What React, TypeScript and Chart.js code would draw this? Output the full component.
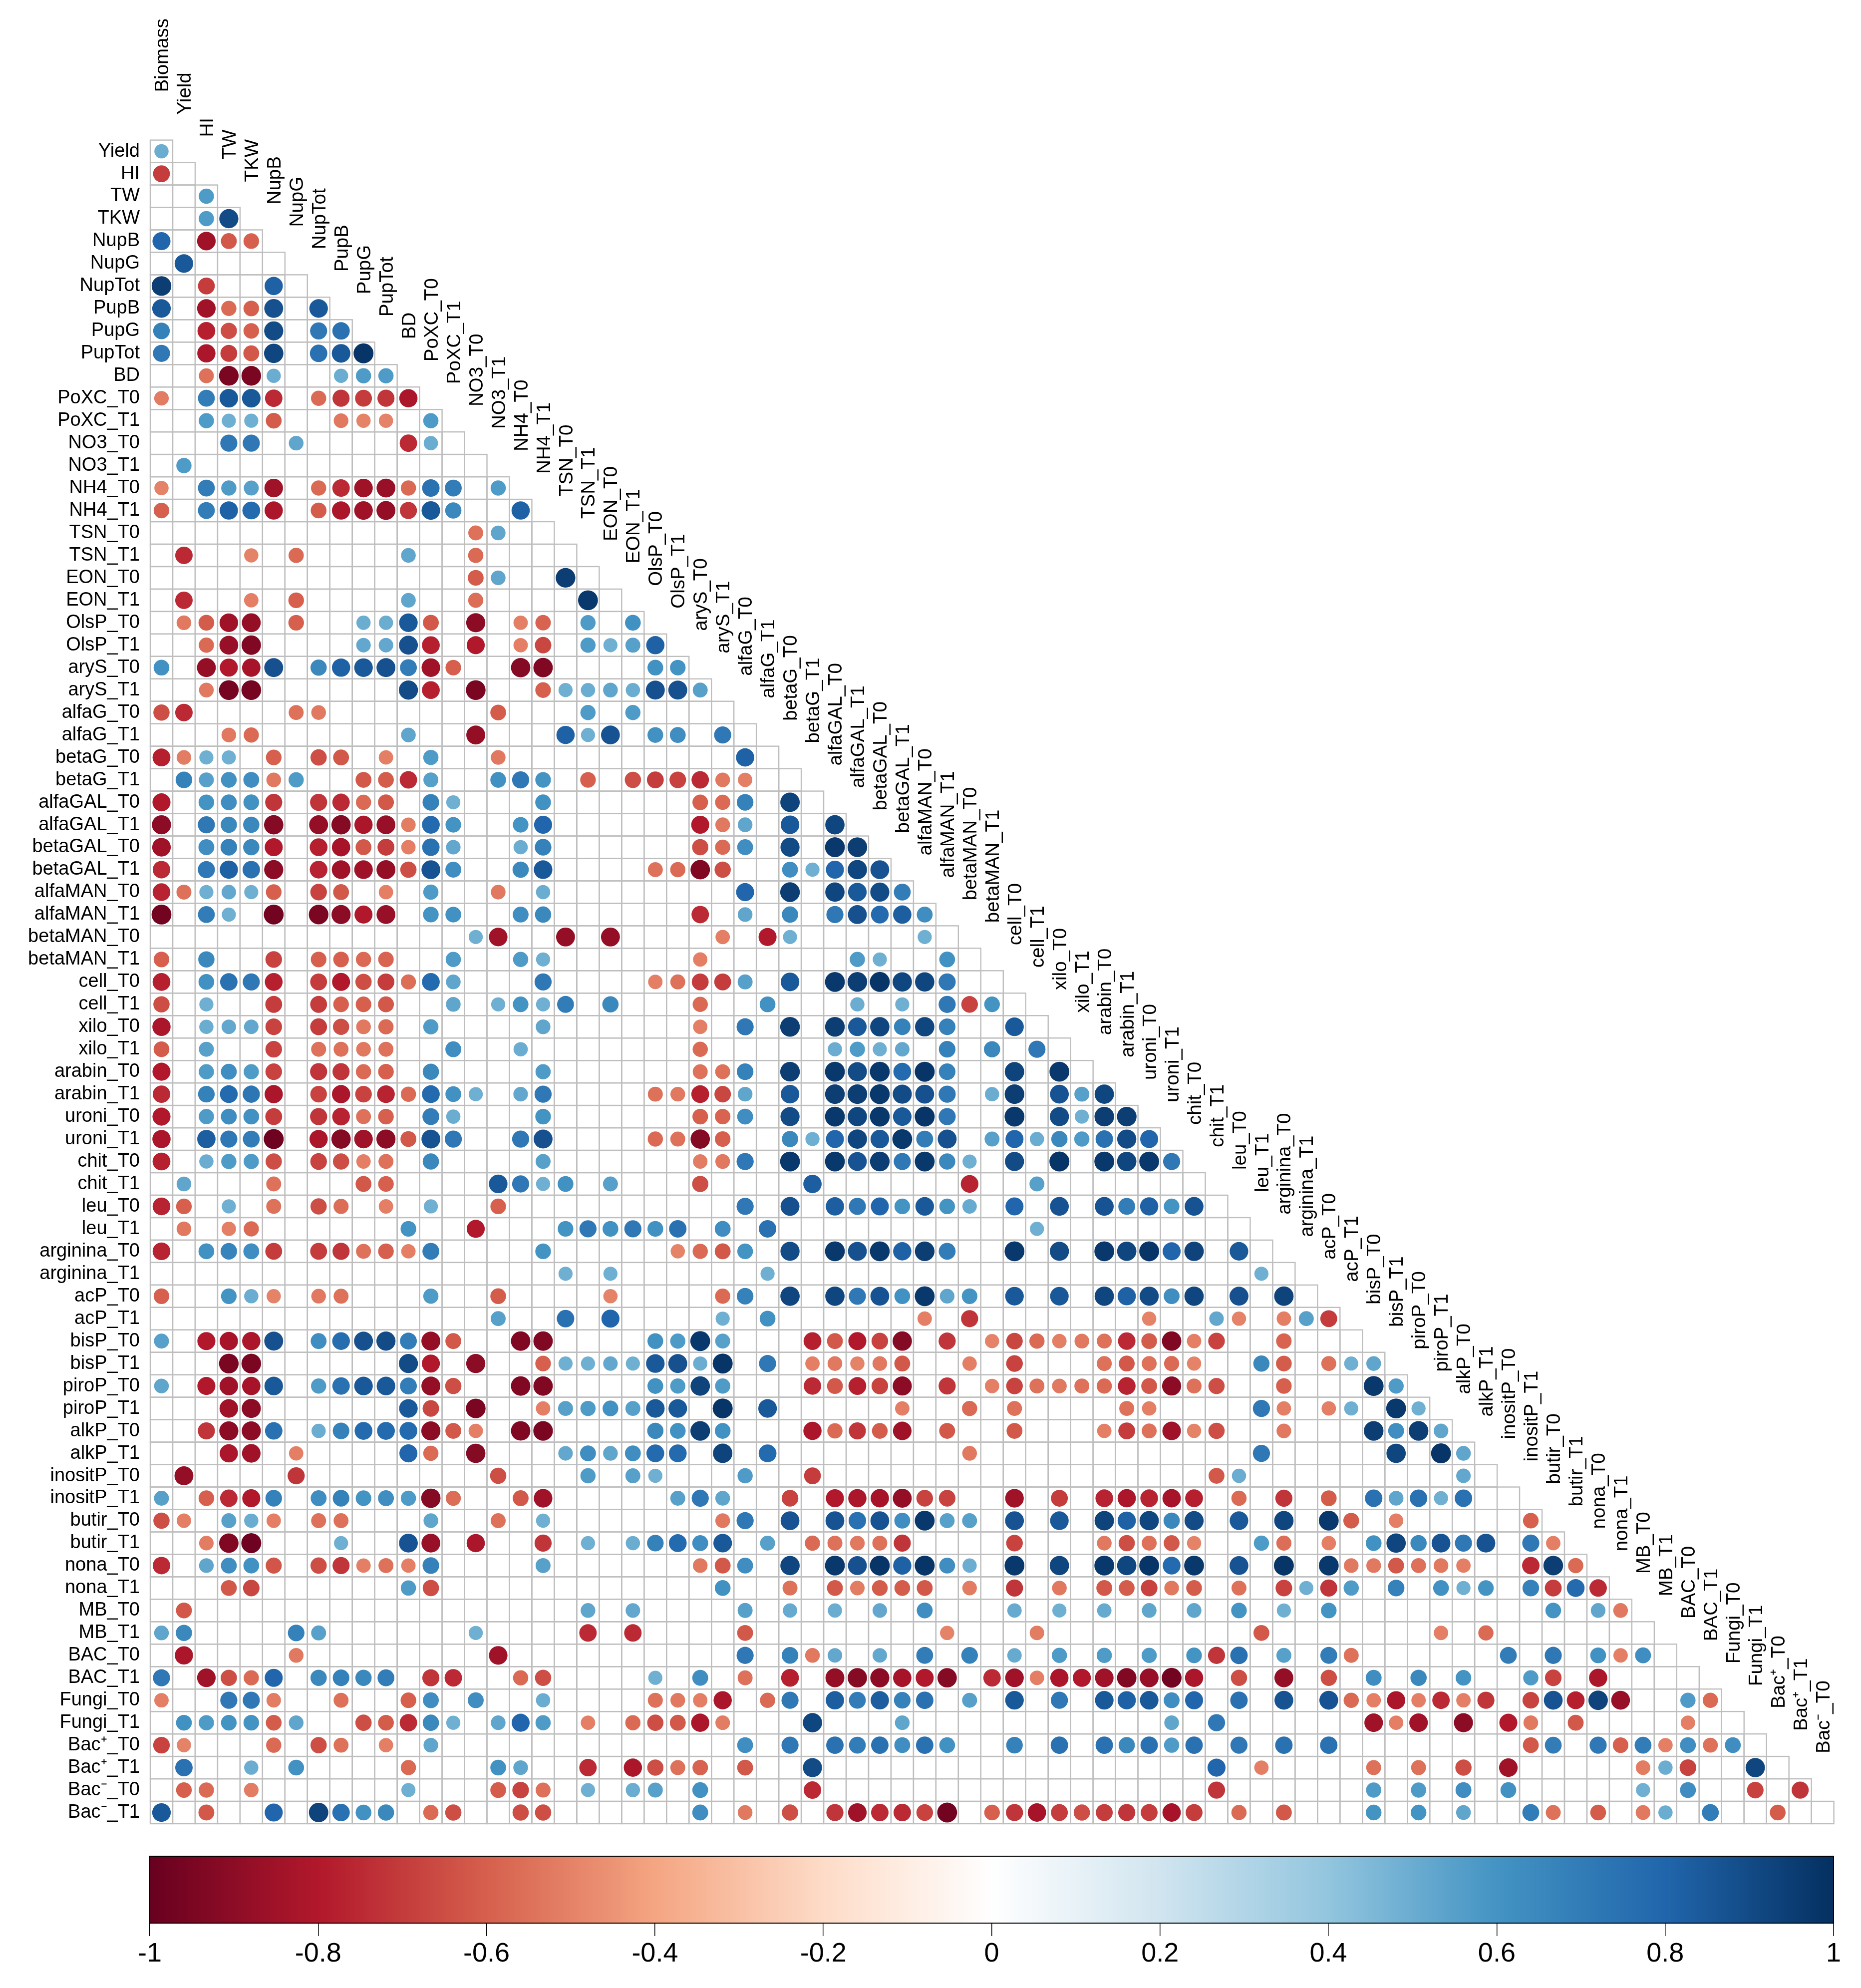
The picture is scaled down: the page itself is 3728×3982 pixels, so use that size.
import React, { useEffect, useRef } from "react";
import { Chart, registerables } from "chart.js";

Chart.register(...registerables);

const variables = ["Biomass","Yield","HI","TW","TKW","NupB","NupG","NupTot","PupB","PupG","PupTot","BD","PoXC_T0","PoXC_T1","NO3_T0","NO3_T1","NH4_T0","NH4_T1","TSN_T0","TSN_T1","EON_T0","EON_T1","OlsP_T0","OlsP_T1","aryS_T0","aryS_T1","alfaG_T0","alfaG_T1","betaG_T0","betaG_T1","alfaGAL_T0","alfaGAL_T1","betaGAL_T0","betaGAL_T1","alfaMAN_T0","alfaMAN_T1","betaMAN_T0","betaMAN_T1","cell_T0","cell_T1","xilo_T0","xilo_T1","arabin_T0","arabin_T1","uroni_T0","uroni_T1","chit_T0","chit_T1","leu_T0","leu_T1","arginina_T0","arginina_T1","acP_T0","acP_T1","bisP_T0","bisP_T1","piroP_T0","piroP_T1","alkP_T0","alkP_T1","inositP_T0","inositP_T1","butir_T0","butir_T1","nona_T0","nona_T1","MB_T0","MB_T1","BAC_T0","BAC_T1","Fungi_T0","Fungi_T1","Bac⁺_T0","Bac⁺_T1","Bac⁻_T0","Bac⁻_T1"];

// Each row: [column index, correlation] for the significant cells only.
const row00 = [[0,.5]];
const row01 = [[0,-.7]];
const row02 = [[2,.57]];
const row03 = [[2,.57],[3,.9]];
const row04 = [[0,.8],[2,-.85],[3,-.62],[4,-.6]];
const row05 = [[1,.85]];
const row06 = [[0,.95],[2,-.7],[5,.82]];
const row07 = [[0,.85],[2,-.85],[3,-.57],[4,-.6],[5,.88],[7,.85]];
const row08 = [[0,.68],[2,-.78],[3,-.65],[4,-.6],[5,.9],[7,.72],[8,.75]];
const row09 = [[0,.72],[2,-.82],[3,-.7],[4,-.62],[5,.92],[7,.75],[8,.85],[9,.98]];
const row10 = [[2,-.55],[3,-.95],[4,-.95],[5,.5],[8,.5],[9,.57],[10,.57]];
const row11 = [[0,-.52],[2,.7],[3,.85],[4,.85],[5,-.75],[7,-.57],[8,-.72],[9,-.7],[10,-.72],[11,-.82]];
const row12 = [[2,.57],[3,.49],[4,.49],[5,-.61],[8,-.53],[9,-.5],[10,-.5],[12,.57]];
const row13 = [[3,.72],[4,.72],[6,.53],[11,-.75],[12,.5]];
const row14 = [[1,.57]];
const row15 = [[0,-.5],[2,.7],[3,.57],[4,.55],[5,-.85],[7,-.57],[8,-.75],[9,-.85],[10,-.87],[11,-.57],[12,.75],[13,.7],[15,.57]];
const row16 = [[0,-.6],[2,.7],[3,.82],[4,.78],[5,-.82],[7,-.61],[8,-.82],[9,-.85],[10,-.88],[11,-.72],[12,.85],[13,.65],[16,.82]];
const row17 = [[14,-.55],[15,.53]];
const row18 = [[1,-.75],[4,-.5],[6,-.57],[11,.53],[14,-.57]];
const row19 = [[14,-.61],[15,.53],[18,.95]];
const row20 = [[1,-.75],[4,-.51],[6,-.6],[11,.53],[14,-.56],[19,.97]];
const row21 = [[1,-.53],[2,-.61],[3,-.85],[4,-.88],[6,-.6],[9,.5],[10,.5],[11,.85],[12,-.62],[14,-.9],[16,-.51],[17,-.59],[19,.57],[21,.61]];
const row22 = [[2,-.57],[3,-.87],[4,-.93],[9,.52],[10,.52],[11,.88],[12,-.78],[14,-.8],[16,-.51],[17,-.67],[19,.57],[20,.49],[21,.55],[22,.82]];
const row23 = [[0,.61],[2,-.88],[3,-.8],[4,-.83],[5,.88],[7,.65],[8,.82],[9,.85],[10,.88],[11,.7],[12,-.85],[13,-.6],[16,-.92],[17,-.93],[22,.61],[23,.6]];
const row24 = [[2,-.53],[3,-.96],[4,-.96],[11,.9],[12,-.78],[14,-.95],[17,-.6],[18,.49],[19,.5],[20,.53],[21,.5],[22,.88],[23,.88],[24,.55]];
const row25 = [[0,-.65],[1,-.75],[6,-.55],[7,-.53],[15,-.61],[19,.57],[21,.57]];
const row26 = [[3,-.53],[4,-.57],[11,.53],[14,-.88],[18,.82],[19,.49],[20,.87],[22,.61],[23,.62],[25,.72]];
const row27 = [[0,-.78],[1,-.52],[2,.49],[3,.49],[5,-.6],[7,-.65],[8,-.62],[10,-.51],[12,.57],[15,-.53],[26,.82]];
const row28 = [[1,.68],[2,.55],[3,.61],[4,.62],[5,-.53],[6,.57],[9,-.62],[10,-.61],[11,-.75],[12,.55],[15,.61],[16,.72],[17,.6],[19,-.6],[21,-.65],[22,-.7],[23,-.68],[24,-.75],[25,-.53],[26,-.51]];
const row29 = [[0,-.8],[2,.6],[3,.62],[4,.61],[5,-.72],[7,-.72],[8,-.75],[9,-.57],[10,-.62],[12,.68],[13,.49],[17,.61],[24,-.6],[25,-.57],[26,.68],[28,.93]];
const row30 = [[0,-.9],[2,.72],[3,.65],[4,.65],[5,-.92],[7,-.88],[8,-.92],[9,-.82],[10,-.87],[11,-.52],[12,.78],[13,.6],[16,.6],[17,.8],[24,-.8],[25,-.53],[26,.53],[28,.85],[30,.92]];
const row31 = [[0,-.85],[2,.62],[3,.68],[4,.65],[5,-.8],[7,-.78],[8,-.83],[9,-.62],[10,-.7],[11,-.51],[12,.75],[13,.52],[16,.5],[17,.68],[24,-.65],[25,-.57],[26,.62],[28,.9],[30,.97],[31,.95]];
const row32 = [[0,-.75],[2,.72],[3,.82],[4,.75],[5,-.9],[7,-.77],[8,-.85],[9,-.85],[10,-.88],[11,-.65],[12,.87],[13,.62],[16,.65],[17,.85],[22,-.55],[23,-.57],[24,-.93],[25,-.65],[28,.62],[29,.49],[30,.8],[31,.92],[32,.87]];
const row33 = [[0,-.77],[1,-.55],[2,.49],[3,.52],[4,.49],[5,-.6],[7,-.68],[8,-.62],[10,-.51],[12,.57],[15,-.53],[17,.5],[26,.8],[28,.95],[30,.92],[31,.85],[32,.9],[33,.7]];
const row34 = [[0,-.97],[2,.7],[3,.49],[5,-.97],[7,-.95],[8,-.9],[9,-.8],[10,-.87],[12,.6],[13,.61],[16,.62],[17,.65],[24,-.75],[26,.53],[28,.65],[30,.72],[31,.88],[32,.78],[33,.83],[34,.62]];
const row35 = [[14,.49],[15,-.85],[18,-.88],[20,-.88],[25,-.51],[27,-.8],[28,.49],[34,.49]];
const row36 = [[0,-.6],[2,.65],[5,-.68],[7,-.6],[8,-.6],[9,-.57],[10,-.59],[13,.57],[16,.57],[17,.49],[24,-.51],[31,.57],[32,.49],[35,.61]];
const row37 = [[0,-.78],[2,.61],[3,.75],[4,.72],[5,-.78],[7,-.7],[8,-.8],[9,-.65],[10,-.7],[11,-.56],[12,.78],[13,.53],[17,.72],[22,-.51],[23,-.55],[24,-.7],[25,-.7],[26,.55],[28,.85],[30,.97],[31,.95],[32,.98],[33,.92],[34,.92],[35,.72]];
const row38 = [[0,-.65],[2,.49],[5,-.7],[7,-.7],[8,-.6],[9,-.6],[10,-.62],[13,.53],[15,.49],[16,.6],[17,.49],[18,.7],[20,.65],[24,-.57],[27,.61],[31,.5],[33,.49],[35,.72],[36,-.68],[37,.6]];
const row39 = [[0,-.82],[2,.5],[3,.52],[4,.52],[5,-.68],[7,-.7],[8,-.65],[9,-.53],[10,-.57],[12,.57],[17,.53],[24,-.51],[26,.72],[28,.95],[30,.95],[31,.85],[32,.92],[33,.68],[34,.92],[35,.68],[38,.85]];
const row40 = [[0,-.61],[2,.55],[5,-.68],[7,-.55],[8,-.55],[9,-.53],[10,-.55],[13,.62],[16,.5],[24,-.57],[30,.5],[31,.57],[32,.49],[33,.52],[35,.68],[37,.65],[39,.72]];
const row41 = [[0,-.8],[2,.57],[3,.62],[4,.57],[5,-.68],[7,-.72],[8,-.72],[9,-.57],[10,-.6],[12,.65],[17,.57],[24,-.55],[25,-.55],[26,.68],[28,.95],[30,.97],[31,.9],[32,.97],[33,.78],[34,.98],[35,.68],[38,.93],[40,.97]];
const row42 = [[0,-.75],[2,.68],[3,.78],[4,.73],[5,-.82],[7,-.68],[8,-.82],[9,-.68],[10,-.77],[11,-.57],[12,.78],[13,.61],[14,.49],[16,.52],[17,.72],[22,-.55],[23,-.53],[24,-.78],[25,-.67],[26,.53],[28,.85],[30,.95],[31,.95],[32,.97],[33,.9],[34,.88],[35,.72],[37,.5],[38,.95],[40,.87],[41,.55],[42,.92]];
const row43 = [[0,-.8],[2,.57],[3,.62],[4,.61],[5,-.7],[7,-.72],[8,-.77],[9,-.55],[10,-.6],[12,.7],[13,.5],[17,.6],[24,-.6],[25,-.59],[26,.62],[28,.9],[30,.97],[31,.92],[32,.97],[33,.85],[34,.98],[35,.72],[38,.97],[40,.9],[41,.49],[42,.95],[43,.95]];
const row44 = [[0,-.82],[2,.83],[3,.72],[4,.7],[5,-.98],[7,-.82],[8,-.92],[9,-.85],[10,-.9],[11,-.62],[12,.87],[13,.72],[16,.72],[17,.88],[22,-.57],[23,-.55],[24,-.92],[25,-.6],[28,.65],[29,.49],[30,.8],[31,.92],[32,.85],[33,.97],[34,.7],[35,.88],[37,.55],[38,.8],[39,.5],[40,.65],[41,.57],[42,.75],[43,.9],[44,.8]];
const row45 = [[0,-.78],[2,.5],[3,.57],[4,.57],[5,-.65],[7,-.68],[8,-.65],[9,-.51],[10,-.55],[12,.65],[17,.55],[24,-.52],[25,-.53],[26,.72],[28,.97],[30,.97],[31,.87],[32,.95],[33,.72],[34,.97],[35,.65],[36,.49],[38,.9],[40,.98],[42,.97],[43,.92],[44,.97],[45,.72]];
const row46 = [[1,.53],[5,-.55],[9,-.62],[10,-.6],[15,.85],[16,.72],[17,.49],[18,.61],[20,.55],[24,-.65],[29,.83],[36,-.77],[39,.55]];
const row47 = [[0,-.77],[1,-.6],[3,.49],[5,-.55],[7,-.65],[8,-.56],[10,-.51],[12,.49],[15,-.6],[26,.72],[28,.88],[30,.83],[31,.72],[32,.8],[33,.6],[34,.85],[35,.6],[36,.51],[38,.8],[40,.87],[42,.87],[43,.7],[44,.82],[45,.6],[46,.87]];
const row48 = [[1,-.53],[3,-.51],[4,-.57],[11,.6],[14,-.8],[18,.6],[19,.72],[20,.61],[21,.72],[22,.61],[23,.75],[25,.62],[27,.75],[39,.49]];
const row49 = [[0,-.77],[2,.61],[3,.67],[4,.62],[5,-.7],[7,-.7],[8,-.72],[9,-.55],[10,-.6],[11,-.51],[12,.7],[17,.6],[23,-.5],[24,-.57],[25,-.62],[26,.6],[28,.9],[30,.97],[31,.88],[32,.97],[33,.82],[34,.95],[35,.7],[38,.97],[40,.9],[42,.97],[43,.92],[44,.98],[45,.8],[46,.93],[48,.85]];
const row50 = [[18,.49],[20,.49],[27,.49],[49,.49]];
const row51 = [[0,-.6],[3,.6],[4,.5],[5,-.5],[7,-.53],[8,-.55],[12,.57],[15,-.61],[20,-.5],[25,-.57],[26,.68],[28,.92],[30,.92],[31,.72],[32,.87],[33,.61],[34,.97],[35,.53],[36,.6],[38,.85],[40,.85],[42,.92],[43,.82],[44,.9],[45,.62],[46,.92],[48,.88],[50,.93]];
const row52 = [[15,.55],[18,.75],[20,.8],[25,.49],[27,.61],[34,-.51],[36,-.72],[44,-.5],[47,.52],[48,-.5],[50,-.51],[51,.55],[52,-.7]];
const row53 = [[0,.55],[2,-.8],[3,-.83],[4,-.82],[5,.88],[7,.62],[8,.77],[9,.88],[10,.9],[11,.7],[12,-.88],[13,-.62],[16,-.93],[17,-.93],[22,.61],[23,.57],[24,.97],[25,.55],[29,-.78],[30,-.62],[31,-.8],[32,-.68],[33,-.92],[35,-.72],[37,-.5],[38,-.67],[39,-.57],[40,-.51],[41,-.53],[42,-.55],[43,-.75],[44,-.61],[45,-.93],[46,-.51],[47,-.68],[50,-.59]];
const row54 = [[3,-.95],[4,-.95],[11,.9],[12,-.8],[14,-.9],[17,-.6],[18,.49],[19,.49],[20,.52],[21,.49],[22,.85],[23,.88],[24,.5],[25,.98],[27,.72],[29,-.51],[30,-.53],[31,-.5],[32,-.53],[33,-.62],[36,-.51],[38,-.68],[42,-.55],[43,-.62],[44,-.55],[45,-.57],[46,-.5],[49,.65],[50,-.61],[52,-.55],[53,.49],[54,.53]];
const row55 = [[0,.53],[2,-.8],[3,-.85],[4,-.83],[5,.85],[7,.57],[8,.75],[9,.85],[10,.85],[11,.7],[12,-.88],[13,-.65],[16,-.93],[17,-.93],[22,.61],[23,.57],[24,.93],[25,.57],[29,-.75],[30,-.62],[31,-.78],[32,-.68],[33,-.9],[35,-.72],[37,-.51],[38,-.68],[39,-.55],[40,-.53],[41,-.55],[42,-.57],[43,-.77],[44,-.62],[45,-.9],[46,-.55],[47,-.65],[50,-.6],[54,.97],[55,.57]];
const row56 = [[3,-.85],[4,-.9],[11,.85],[12,-.67],[14,-.95],[17,-.51],[18,.55],[19,.57],[20,.61],[21,.55],[22,.85],[23,.85],[25,.98],[27,.85],[33,-.51],[36,-.57],[38,-.55],[43,-.55],[44,-.51],[49,.72],[50,-.51],[52,-.51],[53,.49],[55,.97],[56,.49]];
const row57 = [[2,-.72],[3,-.9],[4,-.9],[5,.75],[7,.5],[8,.68],[9,.78],[10,.78],[11,.78],[12,-.9],[13,-.62],[14,-.51],[16,-.93],[17,-.95],[22,.65],[23,.61],[24,.95],[25,.61],[29,-.82],[30,-.57],[31,-.72],[32,-.61],[33,-.85],[35,-.62],[38,-.62],[42,-.51],[43,-.7],[44,-.55],[45,-.85],[46,-.5],[47,-.65],[50,-.53],[54,.95],[55,.62],[56,.95],[57,.53]];
const row58 = [[3,-.82],[4,-.85],[6,-.51],[11,.8],[12,-.57],[14,-.92],[18,.52],[19,.62],[20,.53],[21,.62],[22,.78],[23,.78],[25,.93],[27,.78],[36,-.53],[49,.72],[55,.92],[57,.98],[58,.53]];
const row59 = [[1,-.88],[6,-.72],[15,-.65],[19,.57],[21,.55],[22,.49],[26,.57],[29,-.7],[47,-.62],[48,.5],[58,.52]];
const row60 = [[0,.55],[2,-.6],[3,-.75],[4,-.8],[5,.68],[7,.62],[8,.68],[9,.6],[10,.62],[11,.57],[12,-.92],[13,-.56],[16,-.62],[17,-.85],[23,.55],[24,.72],[25,.53],[28,-.68],[30,-.8],[31,-.82],[32,-.83],[33,-.88],[34,-.68],[35,-.68],[38,-.85],[40,-.7],[42,-.77],[43,-.82],[44,-.77],[45,-.83],[46,-.78],[48,-.57],[50,-.72],[52,-.61],[54,.75],[55,.53],[56,.75],[57,.49],[58,.75]];
const row61 = [[0,-.65],[1,-.51],[3,.55],[4,.5],[5,-.51],[7,-.55],[8,-.55],[12,.53],[15,-.55],[17,.49],[25,-.53],[26,.72],[28,.87],[30,.87],[31,.75],[32,.87],[33,.62],[34,.97],[35,.55],[36,.55],[38,.87],[40,.85],[42,.93],[43,.82],[44,.92],[45,.65],[46,.9],[48,.85],[50,.92],[52,.97],[53,-.61],[55,-.51],[61,-.6]];
const row62 = [[2,-.52],[3,-.93],[4,-.98],[8,.49],[11,.87],[12,-.87],[14,-.82],[17,-.72],[19,.49],[21,.5],[22,.68],[23,.78],[24,.62],[25,.85],[27,.55],[29,-.57],[30,-.55],[31,-.53],[32,-.55],[33,-.72],[38,-.68],[42,-.53],[43,-.65],[44,-.55],[45,-.62],[46,-.5],[49,.57],[50,-.56],[52,-.51],[54,.61],[55,.92],[56,.65],[57,.87],[58,.72],[59,.87],[61,.72],[62,-.51]];
const row63 = [[0,-.75],[2,.53],[3,.62],[4,.61],[5,-.63],[7,-.65],[8,-.72],[9,-.51],[10,-.55],[11,-.51],[12,.68],[17,.55],[24,-.53],[25,-.62],[26,.62],[28,.92],[30,.97],[31,.88],[32,.98],[33,.82],[34,.98],[35,.62],[36,.5],[38,.97],[40,.92],[42,.97],[43,.92],[44,.98],[45,.78],[46,.97],[48,.87],[50,.98],[52,.97],[53,-.53],[54,-.53],[55,-.62],[56,-.55],[57,-.53],[58,-.51],[61,-.75],[62,.95],[63,-.57]];
const row64 = [[3,-.62],[4,-.67],[11,.57],[12,-.65],[25,.61],[28,-.55],[30,-.62],[31,-.52],[32,-.61],[33,-.61],[34,-.62],[36,-.52],[38,-.72],[40,-.53],[42,-.62],[43,-.61],[44,-.68],[45,-.53],[46,-.61],[48,-.55],[50,-.68],[51,.49],[52,-.72],[53,.57],[55,.68],[57,.61],[58,.49],[59,.6],[61,.68],[62,-.7],[63,.78],[64,-.75]];
const row65 = [[1,-.62],[19,.53],[21,.52],[26,.55],[28,.51],[30,.5],[32,.52],[34,.62],[38,.51],[40,.49],[42,.51],[44,.53],[46,.53],[48,.6],[50,.49],[52,.6],[62,.6],[64,.53],[65,-.53]];
const row66 = [[0,.53],[1,.65],[6,.68],[7,.55],[14,.49],[19,-.75],[21,-.75],[26,-.62],[35,-.5],[39,-.52],[49,-.62],[57,-.51],[59,-.57]];
const row67 = [[1,-.82],[6,-.53],[15,-.85],[26,.72],[28,.68],[29,-.53],[30,.52],[32,.52],[34,.7],[36,.68],[38,.51],[40,.57],[42,.57],[44,.57],[46,.6],[47,-.72],[48,.75],[50,.55],[52,.7],[53,-.55],[60,.7],[62,.72],[64,.61],[65,-.51],[66,.62]];
const row68 = [[0,.72],[2,-.85],[3,-.65],[4,-.57],[5,.8],[7,.65],[8,.68],[9,.65],[10,.7],[12,-.72],[13,-.75],[16,-.57],[17,-.65],[22,.49],[24,.62],[26,-.55],[28,-.78],[30,-.88],[31,-.92],[32,-.9],[33,-.83],[34,-.8],[35,-.92],[37,-.75],[38,-.85],[39,-.51],[40,-.82],[41,-.8],[42,-.85],[43,-.93],[44,-.87],[45,-.97],[46,-.82],[48,-.65],[50,-.88],[52,-.65],[54,.62],[56,.65],[58,.6],[61,.57],[62,-.68],[64,-.82]];
const row69 = [[0,-.51],[3,.72],[4,.72],[5,-.52],[8,-.55],[11,-.6],[12,.62],[14,.62],[17,.5],[22,-.55],[23,-.53],[24,-.51],[25,-.82],[27,-.57],[28,.72],[30,.83],[31,.7],[32,.83],[33,.68],[34,.75],[36,.55],[38,.85],[40,.72],[42,.85],[43,.82],[44,.85],[45,.62],[46,.8],[48,.75],[50,.87],[52,.87],[53,-.57],[54,-.51],[55,-.82],[56,-.51],[57,-.75],[58,-.51],[59,-.72],[61,-.68],[62,.87],[63,-.78],[64,.93],[65,-.87],[68,.57],[69,-.57]];
const row70 = [[1,.61],[2,.57],[3,.6],[4,.6],[5,-.61],[6,.53],[9,-.65],[10,-.61],[11,-.75],[12,.65],[13,.49],[15,.53],[16,.8],[17,.57],[19,-.51],[21,-.57],[22,-.65],[23,-.62],[24,-.82],[25,-.52],[29,.92],[33,.53],[45,.53],[47,.72],[54,-.85],[55,-.51],[56,-.85],[58,-.9],[60,-.8],[61,-.53],[63,-.62],[68,-.51]];
const row71 = [[0,-.68],[1,-.5],[5,-.57],[7,-.65],[8,-.55],[10,-.51],[12,.53],[26,.62],[28,.72],[30,.75],[31,.7],[32,.75],[33,.62],[34,.75],[35,.61],[38,.68],[40,.75],[42,.75],[43,.65],[44,.75],[45,.57],[46,.75],[48,.72],[50,.75],[52,.75],[61,-.62],[62,.7],[64,.72],[65,-.6],[66,.7],[67,-.51],[68,.62],[69,-.55],[70,.62]];
const row72 = [[1,.75],[4,.5],[6,.61],[11,-.57],[15,.61],[16,.53],[19,-.75],[21,-.82],[22,-.65],[23,-.55],[24,-.59],[26,-.62],[29,.9],[47,.8],[49,-.51],[54,-.55],[56,-.55],[58,-.65],[60,-.85],[66,-.52],[67,.5],[68,-.68],[71,.92]];
const row73 = [[1,-.6],[2,-.57],[4,-.52],[11,.49],[15,-.61],[16,-.68],[17,-.55],[19,.49],[21,.5],[22,.55],[24,.61],[29,-.75],[47,-.72],[54,.57],[56,.57],[58,.62],[60,.61],[66,.49],[68,.62],[71,-.68],[73,-.72]];
const row74 = [[0,.85],[2,-.62],[5,.8],[7,.93],[8,.75],[9,.61],[10,.65],[12,-.57],[13,-.65],[16,-.65],[17,-.65],[24,.62],[26,-.53],[28,-.65],[30,-.72],[31,-.85],[32,-.75],[33,-.75],[34,-.68],[35,-.97],[37,-.6],[38,-.72],[39,-.83],[40,-.7],[41,-.65],[42,-.7],[43,-.72],[44,-.7],[45,-.83],[46,-.7],[48,-.57],[50,-.62],[54,.6],[56,.6],[58,.53],[61,.7],[62,-.55],[64,-.61],[66,-.53],[67,.5],[69,.7],[72,-.61]];

const rows = [row00,row01,row02,row03,row04,row05,row06,row07,row08,row09,row10,row11,row12,row13,row14,row15,row16,row17,row18,row19,row20,row21,row22,row23,row24,row25,row26,row27,row28,row29,row30,row31,row32,row33,row34,row35,row36,row37,row38,row39,row40,row41,row42,row43,row44,row45,row46,row47,row48,row49,row50,row51,row52,row53,row54,row55,row56,row57,row58,row59,row60,row61,row62,row63,row64,row65,row66,row67,row68,row69,row70,row71,row72,row73,row74];

const paletteStops = ["#67001F","#B2182B","#D6604D","#F4A582","#FDDBC7","#FFFFFF","#D1E5F0","#92C5DE","#4393C3","#2166AC","#053061"];
const colorbarTicks = [-1,-0.8,-0.6,-0.4,-0.2,0,0.2,0.4,0.6,0.8,1];

const FONT = '"Liberation Sans", Arial, sans-serif';
const N = rows.length;

function hex(c: string) {
  return [1, 3, 5].map((i) => parseInt(c.slice(i, i + 2), 16));
}
function colorOf(v: number) {
  const t = Math.min(0.99999, Math.max(0, (v + 1) / 2)) * (paletteStops.length - 1);
  const i = Math.floor(t);
  const a = hex(paletteStops[i]);
  const b = hex(paletteStops[i + 1]);
  const f = t - i;
  const m = a.map((p, k) => Math.round(p + (b[k] - p) * f));
  return `rgb(${m[0]},${m[1]},${m[2]})`;
}

const cellGrid = {
  id: "cellGrid",
  beforeDatasetsDraw(chart: any) {
    const { ctx, scales } = chart;
    const { x, y } = scales;
    ctx.save();
    ctx.strokeStyle = "#bebebe";
    ctx.lineWidth = 2.4;
    for (let r = 0; r < N; r++) {
      for (let c = 0; c <= r; c++) {
        const x0 = x.getPixelForValue(c);
        const x1 = x.getPixelForValue(c + 1);
        const y0 = y.getPixelForValue(r);
        const y1 = y.getPixelForValue(r + 1);
        ctx.strokeRect(x0, y0, x1 - x0, y1 - y0);
      }
    }
    ctx.restore();
  },
  afterDatasetsDraw(chart: any) {
    const { ctx, scales } = chart;
    const { x, y } = scales;
    ctx.save();
    ctx.fillStyle = "#000";
    ctx.font = `38.5px ${FONT}`;
    ctx.textAlign = "left";
    ctx.textBaseline = "middle";
    for (let c = 0; c < N; c++) {
      ctx.save();
      ctx.translate(x.getPixelForValue(c + 0.5) + 3, y.getPixelForValue(c) - 96);
      ctx.rotate(-Math.PI / 2);
      ctx.fillText(variables[c], 0, 0);
      ctx.restore();
    }
    ctx.restore();
  },
};

const barFill = {
  id: "barFill",
  beforeDatasetsDraw(chart: any) {
    const { ctx, chartArea: a } = chart;
    const g = ctx.createLinearGradient(a.left, 0, a.right, 0);
    paletteStops.forEach((c, i) => g.addColorStop(i / (paletteStops.length - 1), c));
    ctx.save();
    ctx.fillStyle = g;
    ctx.fillRect(a.left, a.top, a.right - a.left, a.bottom - a.top);
    ctx.strokeStyle = "#000";
    ctx.lineWidth = 2;
    ctx.strokeRect(a.left, a.top, a.right - a.left, a.bottom - a.top);
    ctx.restore();
  },
};

export default function App() {
  const mainRef = useRef<HTMLCanvasElement>(null);
  const barRef = useRef<HTMLCanvasElement>(null);

  useEffect(() => {
    document.body.style.margin = "0";
    const points: any[] = [];
    rows.forEach((row, r) => row.forEach(([c, v]) => points.push({ x: c + 0.5, y: r + 0.5, v })));
    const main = new Chart(mainRef.current!, {
      type: "scatter",
      data: {
        datasets: [{
          data: points,
          pointStyle: "circle",
          borderWidth: 0,
          pointBorderWidth: 0,
          pointBorderColor: "rgba(0,0,0,0)",
          pointRadius: (ctx: any) => 20.2 * Math.sqrt(Math.abs(ctx.raw.v)),
          pointBackgroundColor: (ctx: any) => colorOf(ctx.raw.v),
        }],
      } as any,
      options: {
        animation: false,
        responsive: false,
        devicePixelRatio: 1,
        clip: false,
        layout: { padding: { top: 280.6, bottom: 47, right: 54.4, left: 0 } },
        plugins: { legend: { display: false }, tooltip: { enabled: false } },
        scales: {
          x: { type: "linear", min: 0, max: N, display: false },
          y: {
            type: "linear",
            min: 0,
            max: N,
            reverse: true,
            afterFit: (s: any) => { s.width = 301; },
            afterBuildTicks: (s: any) => { s.ticks = variables.slice(1).map((_, i) => ({ value: i + 0.5 })); },
            border: { display: false },
            grid: { display: false, drawTicks: false },
            ticks: {
              autoSkip: false,
              padding: 21,
              color: "#000",
              font: { family: FONT, size: 38 },
              callback: (v: any) => variables[Math.floor(v) + 1],
            },
          },
        },
      } as any,
      plugins: [cellGrid],
    });

    const bar = new Chart(barRef.current!, {
      type: "scatter",
      data: { datasets: [{ data: colorbarTicks.map((t) => ({ x: t, y: 0 })), pointRadius: 0 }] },
      options: {
        animation: false,
        responsive: false,
        devicePixelRatio: 1,
        layout: { padding: { top: 18, bottom: 0, left: 300, right: 55 } },
        plugins: { legend: { display: false }, tooltip: { enabled: false } },
        scales: {
          y: { display: false, min: -1, max: 1 },
          x: {
            type: "linear",
            min: -1,
            max: 1,
            afterFit: (s: any) => { s.height = 130; },
            afterBuildTicks: (s: any) => { s.ticks = colorbarTicks.map((value) => ({ value })); },
            border: { display: false },
            grid: { drawOnChartArea: false, drawTicks: true, tickLength: 26, color: "#000", lineWidth: 1.5 },
            ticks: {
              autoSkip: false,
              maxRotation: 0,
              padding: 4,
              color: "#000",
              font: { family: FONT, size: 54 },
              callback: (v: any) => String(Math.round(v * 10) / 10),
            },
          },
        },
      } as any,
      plugins: [barFill],
    });

    return () => {
      main.destroy();
      bar.destroy();
    };
  }, []);

  return (
    <div style={{ position: "relative", width: 3728, height: 3982, background: "#fff", overflow: "hidden" }}>
      <canvas ref={mainRef} width={3728} height={3700} style={{ position: "absolute", left: 0, top: 0, width: 3728, height: 3700 }} />
      <canvas ref={barRef} width={3728} height={282} style={{ position: "absolute", left: 0, top: 3700, width: 3728, height: 282 }} />
    </div>
  );
}
